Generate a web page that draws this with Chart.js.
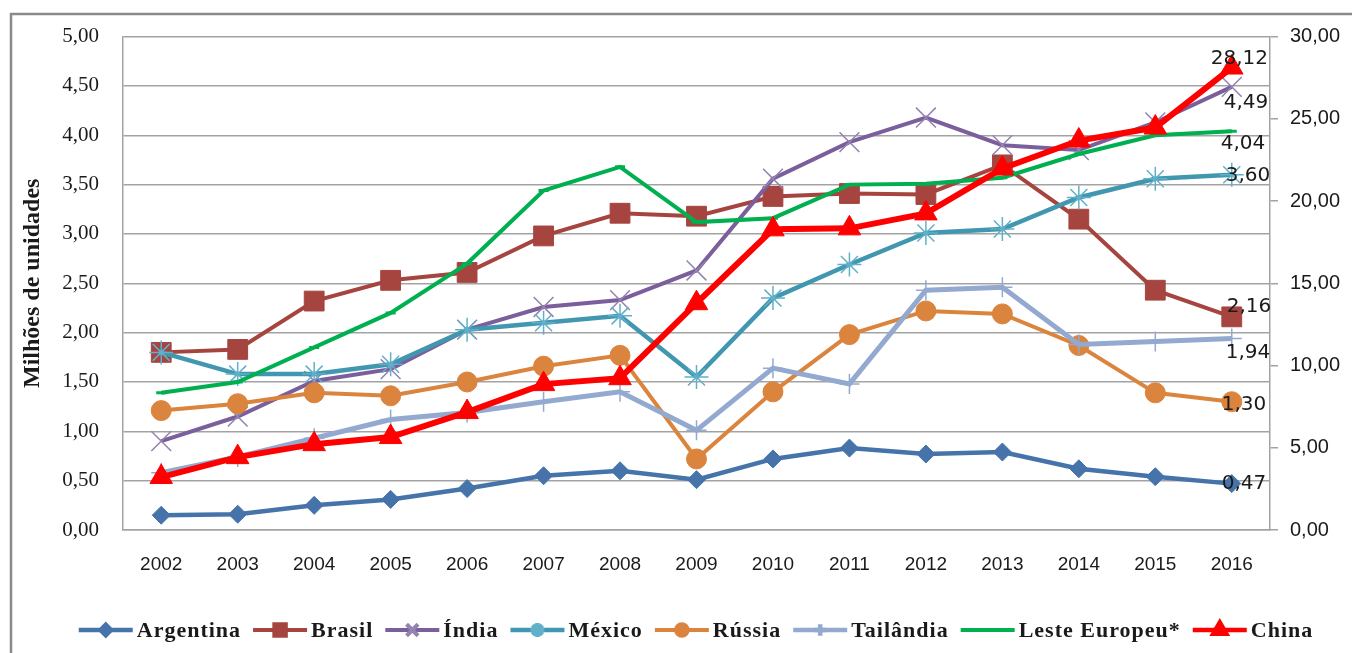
<!DOCTYPE html>
<html>
<head>
<meta charset="utf-8">
<script src="https://cdn.jsdelivr.net/npm/chart.js@4.4.0/dist/chart.umd.min.js"></script>
<style>
  html, body { margin: 0; padding: 0; background: #fff; }
  canvas { display: block; }
</style>
</head>
<body>
<canvas id="chart" width="1352" height="653"></canvas>
<script>
// data
const years = ['2002', '2003', '2004', '2005', '2006', '2007', '2008', '2009', '2010', '2011', '2012', '2013', '2014', '2015', '2016'];
const argentina = [0.15, 0.16, 0.25, 0.31, 0.42, 0.55, 0.60, 0.51, 0.72, 0.83, 0.77, 0.79, 0.62, 0.54, 0.47];
const brasil    = [1.80, 1.83, 2.32, 2.53, 2.61, 2.98, 3.21, 3.18, 3.38, 3.41, 3.40, 3.70, 3.15, 2.43, 2.16];
const india     = [0.90, 1.15, 1.51, 1.63, 2.03, 2.26, 2.33, 2.63, 3.56, 3.93, 4.18, 3.90, 3.85, 4.13, 4.49];
const mexico    = [1.80, 1.58, 1.58, 1.68, 2.03, 2.10, 2.17, 1.55, 2.35, 2.69, 3.01, 3.05, 3.37, 3.56, 3.60];
const russia    = [1.21, 1.28, 1.39, 1.36, 1.50, 1.66, 1.77, 0.72, 1.40, 1.98, 2.22, 2.19, 1.87, 1.39, 1.30];
const thailand  = [0.58, 0.74, 0.93, 1.12, 1.19, 1.30, 1.40, 1.01, 1.64, 1.48, 2.43, 2.46, 1.88, 1.91, 1.94];
const eastEurope = [1.39, 1.50, 1.85, 2.20, 2.70, 3.44, 3.68, 3.12, 3.16, 3.50, 3.51, 3.57, 3.81, 4.00, 4.04];
const china     = [3.22, 4.43, 5.22, 5.65, 7.17, 8.87, 9.23, 13.79, 18.28, 18.34, 19.25, 21.98, 23.68, 24.47, 28.12];

const seriesNames = ['Argentina', 'Brasil', 'Índia', 'México', 'Rússia', 'Tailândia', 'Leste Europeu*', 'China'];
const seriesValues = [argentina, brasil, india, mexico, russia, thailand, eastEurope, china];
const leftTicks = [0, 0.5, 1, 1.5, 2, 2.5, 3, 3.5, 4, 4.5, 5];
const rightTicks = [0, 5, 10, 15, 20, 25, 30];

// styling per series (mark = marker colour, lx/ly = end label offset)
const seriesStyles = [
  { color: '#4674aa', mark: '#4674aa', point: 'rectRot',  radius: 9,  border: 1,   width: 4.5, axis: 'y',  lx: -10, ly: 0 },
  { color: '#a6443f', mark: '#a6443f', point: 'rect',     radius: 14, border: 1,   width: 4,   axis: 'y',  lx: -5,  ly: -10 },
  { color: '#7b5f9c', mark: '#9482b0', point: 'crossRot', radius: 14, border: 1.5, width: 4,   axis: 'y',  lx: -8,  ly: 16 },
  { color: '#4197b0', mark: '#5fb0c8', point: 'star',     radius: 12, border: 1.5, width: 4.5, axis: 'y',  lx: -6,  ly: 1 },
  { color: '#db843d', mark: '#db843d', point: 'circle',   radius: 10, border: 1,   width: 4,   axis: 'y',  lx: -10, ly: 3 },
  { color: '#93a9cf', mark: '#93a9cf', point: 'cross',    radius: 10, border: 1.5, width: 5,   axis: 'y',  lx: -6,  ly: 14 },
  { color: '#00b050', mark: '#00b050', point: 'line',     radius: 5,  border: 3,   width: 4,   axis: 'y',  lx: -11, ly: 12 },
  { color: '#ff0000', mark: '#ff0000', point: 'triangle', radius: 13, border: 1,   width: 6,   axis: 'y1', lx: -21, ly: -9 }
];

const gridColor = '#a3a3a3';
const textColor = '#1a1a1a';
const fmt = v => v.toFixed(2).replace('.', ',');

const datasets = seriesNames.map((name, i) => {
  const s = seriesStyles[i];
  return {
    label: name,
    data: seriesValues[i],
    yAxisID: s.axis,
    borderColor: s.color,
    backgroundColor: s.mark,
    borderWidth: s.width,
    pointStyle: s.point,
    pointRadius: s.radius,
    pointBorderWidth: s.border,
    pointBorderColor: s.mark,
    pointBackgroundColor: s.mark,
    tension: 0,
    order: seriesNames.length - i
  };
});

// outer frame of the figure
const framePlugin = {
  id: 'frame',
  beforeDraw(chart) {
    const ctx = chart.ctx;
    ctx.save();
    ctx.fillStyle = '#fff';
    ctx.fillRect(0, 0, chart.width, chart.height);
    ctx.strokeStyle = '#8a8a8a';
    ctx.lineWidth = 2.5;
    ctx.strokeRect(11, 14, chart.width + 20, chart.height + 20);
    ctx.restore();
  }
};

// value labels at the last point of each series
const endLabels = {
  id: 'endLabels',
  afterDatasetsDraw(chart) {
    const ctx = chart.ctx;
    ctx.save();
    ctx.font = '20px "DejaVu Sans"';
    ctx.fillStyle = textColor;
    ctx.textAlign = 'left';
    ctx.textBaseline = 'middle';
    seriesValues.forEach((vals, i) => {
      const meta = chart.getDatasetMeta(i);
      const pt = meta.data[vals.length - 1];
      const s = seriesStyles[i];
      ctx.fillText(fmt(vals[vals.length - 1]), pt.x + s.lx, pt.y + s.ly);
    });
    ctx.restore();
  }
};

// legend with line + marker, like the spreadsheet one
const lineLegend = {
  id: 'lineLegend',
  afterDraw(chart) {
    const ctx = chart.ctx;
    const y = 630, lineLen = 54, gap = 4, itemGap = 12, centerX = 696;
    ctx.save();
    ctx.font = 'bold 22px "Liberation Serif"';
    ctx.letterSpacing = '1px';
    const widths = seriesNames.map(n => ctx.measureText(n).width);
    const total = widths.reduce((a, w) => a + lineLen + gap + w, 0) + itemGap * (seriesNames.length - 1);
    let x = centerX - total / 2;
    seriesNames.forEach((name, i) => {
      const s = seriesStyles[i];
      ctx.strokeStyle = s.color;
      ctx.lineWidth = Math.min(s.width, 4.5);
      ctx.beginPath();
      ctx.moveTo(x, y);
      ctx.lineTo(x + lineLen, y);
      ctx.stroke();
      ctx.fillStyle = s.mark;
      ctx.strokeStyle = s.mark;
      Chart.helpers.drawPoint(ctx, {
        pointStyle: s.point, radius: s.radius * 0.58, borderWidth: s.border, rotation: 0
      }, x + lineLen / 2, y);
      ctx.fillStyle = textColor;
      ctx.textAlign = 'left';
      ctx.textBaseline = 'middle';
      ctx.fillText(name, x + lineLen + gap, y + 1);
      x += lineLen + gap + widths[i] + itemGap;
    });
    ctx.restore();
  }
};

new Chart(document.getElementById('chart'), {
  type: 'line',
  data: { labels: years, datasets },
  options: {
    responsive: false,
    animation: false,
    devicePixelRatio: 1,
    layout: { padding: { top: 36, left: 0, right: 0, bottom: 0 } },
    plugins: {
      legend: { display: false },
      tooltip: { enabled: false }
    },
    scales: {
      x: {
        offset: true,
        grid: { display: false, drawTicks: false },
        border: { display: true, color: gridColor, width: 1.5 },
        ticks: {
          autoSkip: false, maxRotation: 0, padding: 23, color: textColor,
          font: { family: 'Liberation Sans', size: 19 }
        },
        afterFit: s => { s.height = 123; }
      },
      y: {
        position: 'left',
        min: 0, max: 5,
        afterBuildTicks: s => { s.ticks = leftTicks.map(v => ({ value: v })); },
        grid: { color: gridColor, lineWidth: 1.5, drawTicks: false },
        border: { display: true, color: gridColor, width: 1.5 },
        ticks: {
          padding: 24, color: textColor,
          font: { family: 'Liberation Serif', size: 21 },
          callback: v => fmt(v)
        },
        title: {
          display: true, text: 'Milhões de unidades', color: textColor,
          font: { family: 'Liberation Serif', size: 24, weight: 'bold' },
          padding: { top: 18, bottom: 0 }
        },
        afterFit: s => { s.width = 123; }
      },
      y1: {
        position: 'right',
        min: 0, max: 30,
        afterBuildTicks: s => { s.ticks = rightTicks.map(v => ({ value: v })); },
        grid: { drawOnChartArea: false, color: gridColor, lineWidth: 1.5, tickLength: 8 },
        border: { display: true, color: gridColor, width: 1.5 },
        ticks: {
          padding: 12, color: textColor,
          font: { family: 'Liberation Sans', size: 20 },
          callback: v => fmt(v)
        },
        afterFit: s => { s.width = 82; }
      }
    }
  },
  plugins: [framePlugin, endLabels, lineLegend]
});
</script>
</body>
</html>
